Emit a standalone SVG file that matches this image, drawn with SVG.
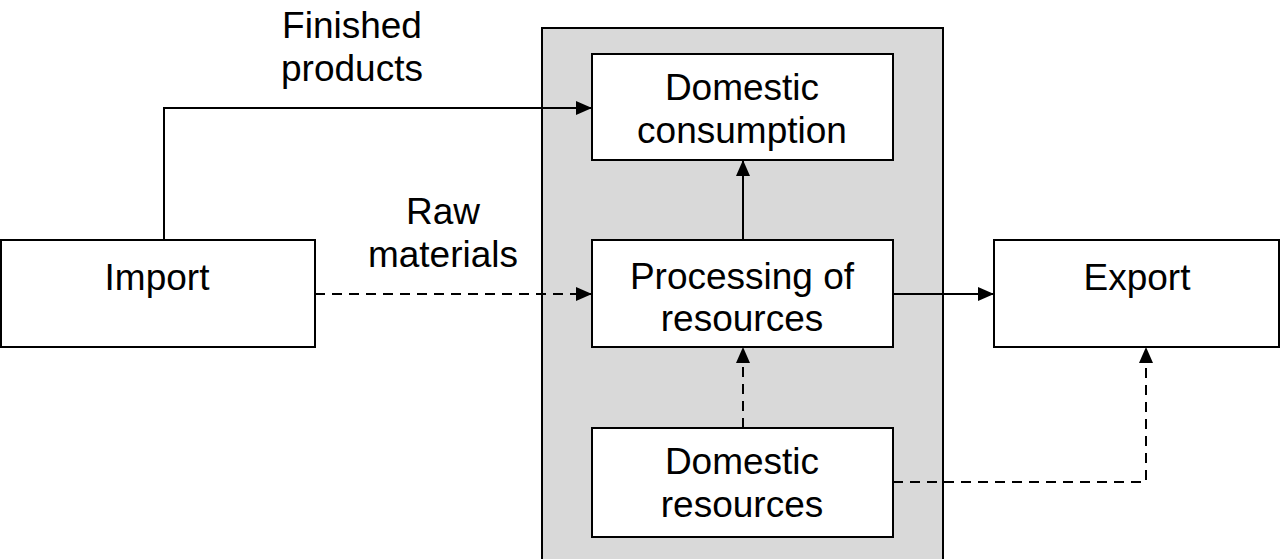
<svg xmlns="http://www.w3.org/2000/svg" width="1281" height="559" viewBox="0 0 1281 559">
<defs>
<style>
.box{fill:#fff;stroke:#000;stroke-width:2}
.t{font-family:"Liberation Sans",Arial,sans-serif;font-size:37px;fill:#000;text-anchor:middle}
.c{fill:none;stroke:#000;stroke-width:2}
.d{stroke-dasharray:10,7}
</style>
<marker id="ah" viewBox="0 0 16 14" refX="16" refY="7" markerWidth="16" markerHeight="14" markerUnits="userSpaceOnUse" orient="auto">
<path d="M0,0 L16,7 L0,14 Z" fill="#000"/>
</marker>
</defs>
<rect width="1281" height="559" fill="#fff"/>
<g id="region"><rect x="542" y="28" width="401" height="540" fill="#d9d9d9" stroke="#000" stroke-width="2"/></g>
<g id="import"><rect class="box" x="1" y="240" width="314" height="107"/><text class="t" x="157" y="290">Import</text></g>
<g id="consumption"><rect class="box" x="592" y="54" width="301" height="106"/><text class="t" x="742" y="100">Domestic</text><text class="t" x="742" y="143">consumption</text></g>
<g id="processing"><rect class="box" x="592" y="240" width="301" height="107"/><text class="t" x="742" y="289">Processing of</text><text class="t" x="742" y="331">resources</text></g>
<g id="resources"><rect class="box" x="592" y="428" width="301" height="109"/><text class="t" x="742" y="474">Domestic</text><text class="t" x="742" y="517">resources</text></g>
<g id="export"><rect class="box" x="994" y="240" width="285" height="107"/><text class="t" x="1137" y="290">Export</text></g>
<g id="labels"><text class="t" x="352" y="38">Finished</text><text class="t" x="352" y="81">products</text><text class="t" x="443" y="224">Raw</text><text class="t" x="443" y="267">materials</text></g>
<g id="connectors">
<path class="c" d="M164,240 V108 H592" marker-end="url(#ah)"/>
<path class="c d" d="M315,294 H592" marker-end="url(#ah)"/>
<path class="c" d="M743,240 V160" marker-end="url(#ah)"/>
<path class="c" d="M893,294 H994" marker-end="url(#ah)"/>
<path class="c d" d="M743,428 V347" marker-end="url(#ah)"/>
<path class="c d" d="M893,482 H1146 V347" marker-end="url(#ah)"/>
</g>
</svg>
